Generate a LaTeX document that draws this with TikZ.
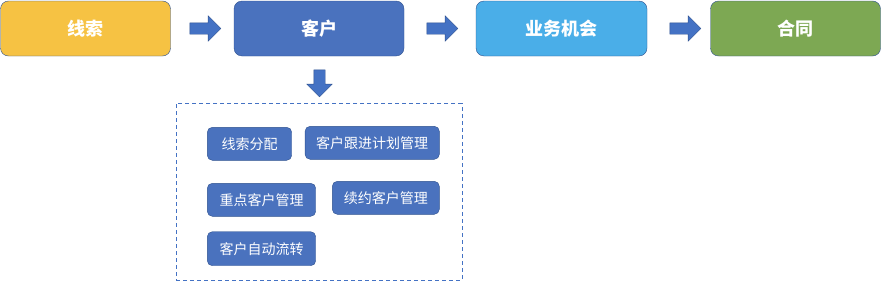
\documentclass[tikz,border=0pt]{standalone}
\usepackage{fontspec}
\setmainfont{Noto Sans CJK SC}
\usepackage{tikz}
\usetikzlibrary{shapes.arrows}
\definecolor{edgeblue}{HTML}{2F528F}
\definecolor{leadyel}{HTML}{F6C243}
\definecolor{custblue}{HTML}{4A72BE}
\definecolor{oppblue}{HTML}{4AAEE8}
\definecolor{contgreen}{HTML}{7DA853}
\definecolor{arrblue}{HTML}{4472C4}

\begin{document}
\begin{tikzpicture}[
  x=1pt, y=-1pt,
  stage/.style={draw=edgeblue, rounded corners=8pt, minimum width=170pt, minimum height=55pt, inner sep=0pt, text=white, font=\fontsize{18}{20}\selectfont\bfseries, fill=#1},
  sub/.style={draw=edgeblue, rounded corners=5pt, minimum height=33pt, inner sep=0pt, text=white, font=\fontsize{14}{16}\selectfont, fill=custblue},
  flow/.style={single arrow, draw=edgeblue, fill=arrblue, inner sep=0pt, single arrow head extend=7pt, minimum height=31pt}]
\useasboundingbox (0,0) rectangle (881,281);
% row A: sales stages
\node[stage=leadyel] (lead) at (85.5,28.5) {线索};
\node[stage=custblue] (cust) at (319,28.5) {客户};
\node[stage=oppblue, minimum width=171pt] (opp) at (561.5,28.5) {业务机会};
\node[stage=contgreen] (cont) at (795.5,28.5) {合同};
\node[flow] (a1) at (202.5,28.5) {\rule{0pt}{11pt}};
\node[flow] (a2) at (439.5,28.5) {\rule{0pt}{11pt}};
\node[flow] (a3) at (682.5,28.5) {\rule{0pt}{11pt}};
\node[flow, rotate=-90, minimum height=27pt] (a4) at (319.5,80.5) {\rule{0pt}{11pt}};
% customer functions
\node[draw=arrblue, dash pattern=on 4pt off 3pt, minimum width=285.7pt, minimum height=176.7pt, inner sep=0pt] (grp) at (318.85,191.65) {};
\node[sub, minimum width=84.4pt] (assign) at (249.5,143.8) {线索分配};
\node[sub, minimum width=134.3pt] (plan) at (372.2,142.8) {客户跟进计划管理};
\node[sub, minimum width=108.4pt] (key) at (261.5,199.8) {重点客户管理};
\node[sub, minimum width=107pt] (renew) at (385.8,197.8) {续约客户管理};
\node[sub, minimum width=108.4pt, minimum height=34pt] (flowc) at (261.5,248.7) {客户自动流转};
\end{tikzpicture}
\end{document}
